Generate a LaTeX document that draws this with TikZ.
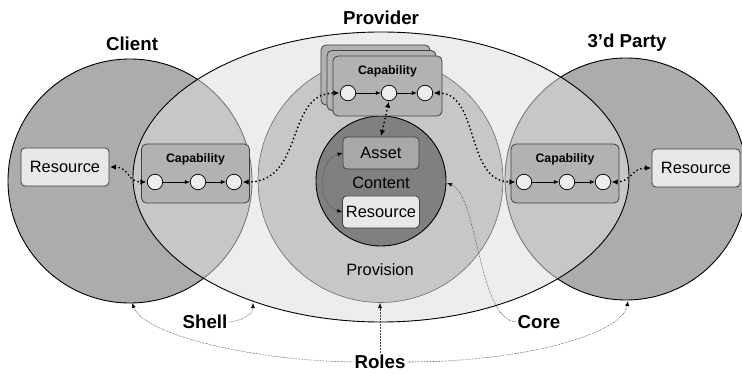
\documentclass[tikz,border=0pt]{standalone}
\usepackage{fontspec}
\setmainfont{Liberation Sans}
\usetikzlibrary{arrows.meta}
\definecolor{cdark}{gray}{0.675}
\definecolor{cell}{gray}{0.875}
\definecolor{cprov}{gray}{0.78}
\definecolor{ccont}{gray}{0.5}
\definecolor{ccap}{gray}{0.70}
\definecolor{casset}{gray}{0.66}
\definecolor{cres}{gray}{0.91}
\definecolor{cdot}{gray}{0.93}
\definecolor{cedge}{gray}{0.25}
\tikzset{
  title/.style={font=\fontsize{18.7}{20}\selectfont\bfseries, inner sep=2pt},
  plain/.style={font=\fontsize{16.4}{18}\selectfont, inner sep=1pt},
  resbox/.style={draw=cedge, line width=0.8pt, rounded corners=4pt, fill=cres, minimum width=88pt, minimum height=38pt, font=\fontsize{16.4}{18}\selectfont},
  inbox/.style={draw=cedge, line width=0.8pt, rounded corners=4pt, minimum width=76pt, minimum height=32pt, font=\fontsize{16.4}{18}\selectfont},
  capbox/.style={draw=cedge, line width=0.8pt, rounded corners=5pt, fill=ccap, minimum width=108pt, minimum height=59pt},
  caplabel/.style={font=\fontsize{12.3}{14}\selectfont\bfseries, inner sep=0pt},
  dotnode/.style={circle, draw=black, line width=0.7pt, fill=cdot, minimum size=15.5pt, inner sep=0pt},
  flow/.style={line width=0.7pt, -{Latex[length=5pt,width=4pt]}},
  thickdot/.style={line width=2pt, dash pattern=on 0pt off 4pt, line cap=round, {Latex[length=6pt,width=5.5pt]}-{Latex[length=6pt,width=5.5pt]}, shorten <=0.5pt, shorten >=0.5pt},
  thindot/.style={draw=black!75, line width=0.55pt, dash pattern=on 0.6pt off 0.9pt, -{Latex[length=5pt,width=4pt,black]}},
}
\begin{document}
\begin{tikzpicture}[x=1pt,y=-1pt]
\useasboundingbox (0,0) rectangle (742,374);
% big shapes
\fill[white] (0,0) rectangle (742,374);
\draw[fill=cdark, line width=0.9pt] (130,181) circle (122);
\draw[fill=cdark, line width=0.9pt] (626,179) circle (121);
\draw[fill=cell, fill opacity=0.54, line width=0.9pt] (381,177) ellipse (248 and 145);
\draw[fill=cprov, draw=gray!85!black, line width=0.6pt] (380.5,180) circle (122.5);
\draw[fill=ccont, line width=0.9pt] (381,181) circle (65);
% titles
\node[title] (client) at (132,44) {Client};
\node[title] (provider) at (381,18) {Provider};
\node[title] (third) at (627,43) {3’d Party};
\node[title] (shell) at (205,322) {Shell};
\node[title] (core) at (539,322) {Core};
\node[title] (roles) at (380,362) {Roles};
\node[plain] (provision) at (380,270) {Provision};
\node[plain] (content) at (381,183) {Content};
% content boxes
\node[inbox, fill=casset] (asset) at (381,153) {Asset};
\node[inbox, fill=cres] (resC) at (381,212) {Resource};
% outer resources
\node[resbox] (resL) at (65,167) {Resource};
\node[resbox] (resR) at (696,168) {Resource};
% capability boxes
\node[capbox, minimum width=109pt, minimum height=60pt] (capT3) at (375.5,75) {};
\node[capbox, minimum width=109pt, minimum height=60pt] (capT2) at (381.5,80.5) {};
\node[capbox, minimum width=109pt, minimum height=60pt] (capT) at (387.5,86) {};
\node[caplabel] (capTl) at (387.5,71) {Capability};
\node[dotnode] (t1) at (348,93) {};
\node[dotnode] (t2) at (389,93) {};
\node[dotnode] (t3) at (425,93) {};
\draw[flow] (t1) -- (t2);
\draw[flow] (t2) -- (t3);

\node[capbox] (capL) at (195.5,173.5) {};
\node[caplabel] (capLl) at (195.5,159) {Capability};
\node[dotnode] (l1) at (155,182) {};
\node[dotnode] (l2) at (198,182) {};
\node[dotnode] (l3) at (234,182) {};
\draw[flow] (l1) -- (l2);
\draw[flow] (l2) -- (l3);

\node[capbox] (capR) at (565,173.5) {};
\node[caplabel] (capRl) at (565,159) {Capability};
\node[dotnode] (r1) at (524,182) {};
\node[dotnode] (r2) at (567,182) {};
\node[dotnode] (r3) at (603,182) {};
\draw[flow] (r1) -- (r2);
\draw[flow] (r2) -- (r3);
% thick dotted connectors
\draw[thickdot] (resL.east) .. controls +(20,0) and +(-20,0) .. (l1.west);
\draw[thickdot] (l3.east) .. controls (305,182) and (285,93) .. (t1.west);
\draw[thickdot] (t3.east) .. controls (480,93) and (465,182) .. (r1.west);
\draw[thickdot] (r3.east) .. controls +(20,0) and +(-20,0) .. (resR.west);
\draw[thickdot] (t2.south) -- (asset.north);
% thin dotted connectors
\draw[thindot, {Latex[length=5pt,width=4pt,black]}-{Latex[length=5pt,width=4pt,black]}] (asset.west) .. controls (317,160) and (317,205) .. (resC.west);
\coordinate (contE) at (447,183);
\draw[thindot] (core.west) .. controls (478,318) and (478,195) .. (contE);
\coordinate (shellT) at (253,303);
\draw[thindot] (shell.east) .. controls (245,320) and (253,313) .. (shellT);
\coordinate (clientB) at (132,303);
\coordinate (provB) at (380,303);
\coordinate (thirdB) at (628,301);
\draw[thindot] (roles.west) .. controls (250,360) and (145,335) .. (clientB);
\draw[thindot] (roles.north) -- (provB);
\draw[thindot] (roles.east) .. controls (520,362) and (622,335) .. (thirdB);
\end{tikzpicture}
\end{document}
